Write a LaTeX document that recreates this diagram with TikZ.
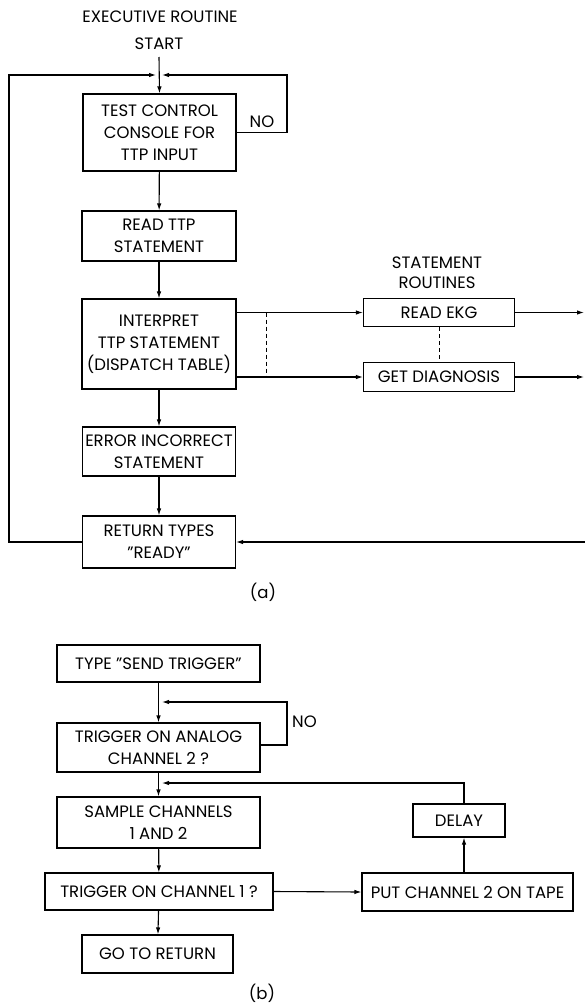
\documentclass[tikz,border=0pt]{standalone}
\usepackage{fontspec}
\setmainfont{Poppins}
\usetikzlibrary{arrows.meta}
\begin{document}
\begin{tikzpicture}[x=1pt,y=-1pt,
  box/.style={draw,line width=1.1pt,inner sep=0pt,align=center,font=\fontsize{16.5}{22}\selectfont},
  lbl/.style={inner sep=0pt,align=center,font=\fontsize{16.5}{20}\selectfont},
  conn/.style={line width=1.1pt},
  dsh/.style={line width=0.8pt,dash pattern=on 4pt off 3pt},
  arr/.style={conn,-{Latex[length=7pt,width=4.5pt]}},
]
\useasboundingbox (0,0) rectangle (585,1004);
% ---------- part (a)
\node[lbl] (title) at (160,17) {EXECUTIVE ROUTINE};
\node[lbl] (start) at (159,44) {START};
\coordinate (s0) at (159,57);
\node[box,minimum width=153pt,minimum height=77pt] (b1) at (159.5,132.5) {TEST CONTROL\\CONSOLE FOR\\TTP INPUT};
\node[box,minimum width=154pt,minimum height=50pt] (b2) at (159,236) {READ TTP\\STATEMENT};
\node[box,minimum width=154pt,minimum height=90pt] (b3) at (159,344) {INTERPRET\\TTP STATEMENT\\(DISPATCH TABLE)};
\node[box,minimum width=153pt,minimum height=49pt] (b4) at (159,451.5) {ERROR INCORRECT\\STATEMENT};
\node[box,minimum width=153pt,minimum height=52pt] (b5) at (159,542) {RETURN TYPES\\"READY"};
\node[lbl] (srt) at (437,273) {STATEMENT\\ROUTINES};
\node[box,minimum width=151pt,minimum height=28pt] (ekg) at (439,312.5) {READ EKG};
\node[box,minimum width=151pt,minimum height=29pt] (diag) at (439,377) {GET DIAGNOSIS};
\node[lbl] (no1) at (262,122) {NO};
\node[lbl] (capa) at (263,592) {(a)};
\coordinate (ll) at (9,75);
\coordinate (rr) at (287,75);
\coordinate (jl) at (156,75);
\coordinate (jr) at (162,75);
\coordinate (da) at (266,0);
\coordinate (re) at (584,0);
\coordinate (rb) at (585,542);
\draw[arr] (s0) -- (b1.north);
\draw[arr] (b5.west) -| (ll) -- (jl);
\draw[arr] (b1.east) -| (rr) -- (jr);
\draw[arr] (b1) -- (b2);
\draw[arr] (b2) -- (b3);
\draw[arr] (b3) -- (b4);
\draw[arr] (b4) -- (b5);
\draw[arr] (b3.east |- ekg.west) -- (ekg.west);
\draw[arr] (b3.east |- diag.west) -- (diag.west);
\draw[dsh] (da |- ekg.west) -- (da |- diag.west);
\draw[dsh] (ekg.south) -- (diag.north);
\draw[arr] (ekg.east) -- (ekg.east -| re);
\draw[arr] (diag.east) -- (diag.east -| re);
\draw[arr] (rb) -- (b5.east);
% ---------- part (b)
\node[box,minimum width=203pt,minimum height=37pt] (t1) at (158.5,663.5) {TYPE "SEND TRIGGER"};
\node[box,minimum width=203pt,minimum height=49pt] (t2) at (158.5,747.5) {TRIGGER ON ANALOG\\CHANNEL 2 ?};
\node[box,minimum width=203pt,minimum height=51pt] (t3) at (158.5,822.5) {SAMPLE CHANNELS\\1 AND 2};
\node[box,minimum width=228pt,minimum height=37pt] (t4) at (159,891.5) {TRIGGER ON CHANNEL 1 ?};
\node[box,minimum width=151pt,minimum height=38pt] (t5) at (157.5,954) {GO TO RETURN};
\node[box,minimum width=92pt,minimum height=33pt] (delay) at (459,820.5) {DELAY};
\node[box,minimum width=211pt,minimum height=38pt] (put) at (467.5,892) {PUT CHANNEL 2 ON TAPE};
\node[lbl,anchor=west] (no2) at (292,722) {NO};
\node[lbl] (capb) at (262,993.5) {(b)};
\coordinate (r2) at (287,702);
\coordinate (j2) at (162,702);
\coordinate (j3) at (162,783);
\coordinate (cx) at (464,0);
\draw[arr] (t1) -- (t2);
\draw[arr] (t2.east |- 0,745) -| (r2) -- (j2);
\draw[arr] (t2) -- (t3);
\draw[arr] (t3) -- (t4);
\draw[arr] (t4) -- (t5);
\draw[arr] (t4.east) -- (put.west);
\draw[arr] (put.north -| cx) -- (delay.south -| cx);
\draw[arr] (delay.north -| cx) |- (j3);
\end{tikzpicture}
\end{document}
